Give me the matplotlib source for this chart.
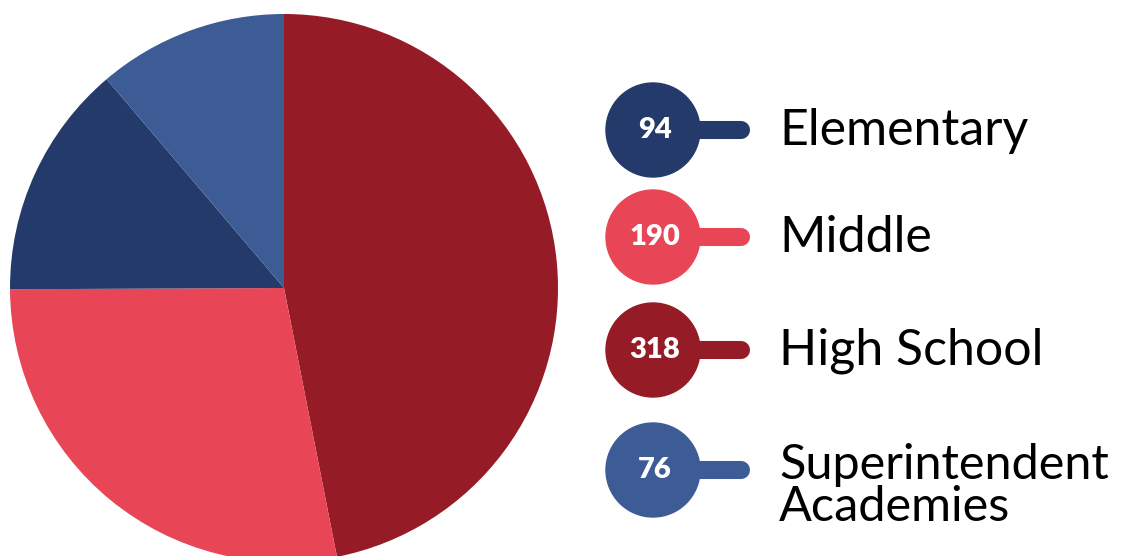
import matplotlib.pyplot as plt
from matplotlib.patches import Circle

# Data
labels = ["Elementary", "Middle", "High School", "Superintendent\nAcademies"]
counts = [94, 190, 318, 76]
colors = ["#243a6a", "#e84656", "#951b26", "#3d5c96"]

# pie order, clockwise from 12 o'clock
pie_order = [2, 1, 0, 3]

fig = plt.figure(figsize=(11.21, 5.56), dpi=100)
ax = fig.add_axes([0, 0, 1, 1])

ax.pie([counts[i] for i in pie_order], colors=[colors[i] for i in pie_order],
       startangle=90, counterclock=False, center=(284, 556 - 288), radius=274,
       wedgeprops=dict(linewidth=0))

ax.set_xlim(0, 1121)
ax.set_ylim(0, 556)
ax.set_aspect("equal")
ax.axis("off")

# legend: circle with number, rounded tail, label
legend_y = [130, 237, 350, 470]
for lab, n, col, yy in zip(labels, counts, colors, legend_y):
    y = 556 - yy
    ax.plot([653, 741], [y, y], color=col, lw=13, solid_capstyle="round", zorder=3)
    ax.add_patch(Circle((653, y), 47, color=col, zorder=4))
    ax.text(655, y, str(n), color="white", fontsize=21, fontweight="heavy",
            family="Lato", ha="center", va="center", zorder=5)
    lines = lab.split("\n")
    if len(lines) == 1:
        ax.text(779, y - 15, lab, fontsize=36, family="Lato", ha="left",
                va="baseline", color="black")
    else:
        for k, part in enumerate(lines):
            ax.text(779, y - 9 - 42 * k, part, fontsize=35, family="Lato",
                    ha="left", va="baseline", color="black")

fig.savefig("out.png", dpi=100)
